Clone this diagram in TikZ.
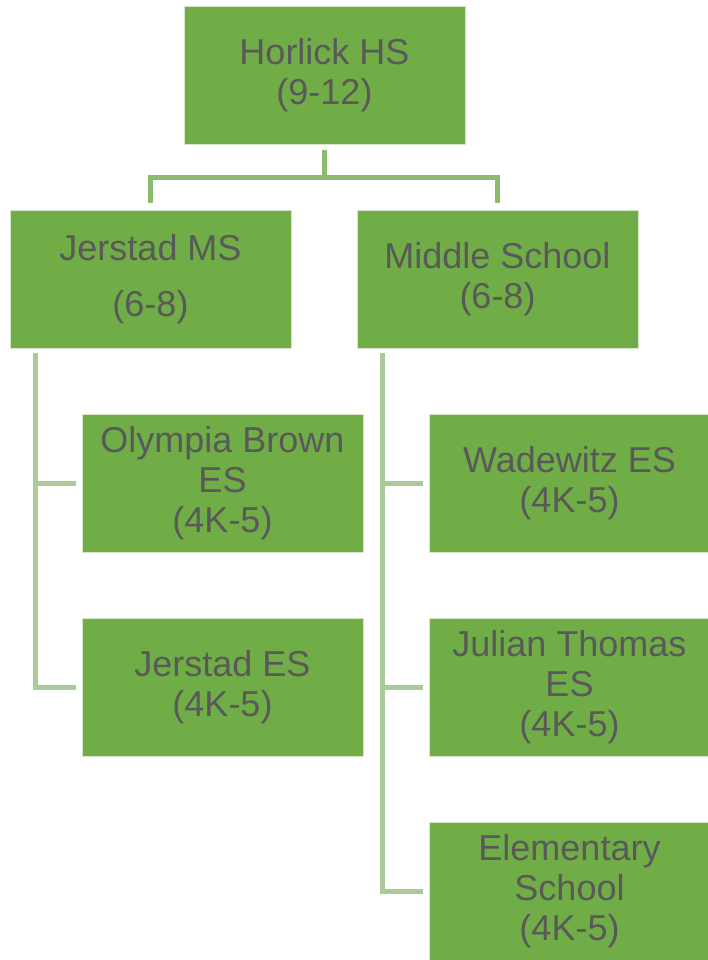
\documentclass[tikz,border=0pt]{standalone}
\usepackage{fontspec}
\setmainfont{Liberation Sans}
\usetikzlibrary{calc}
\definecolor{boxgreen}{HTML}{70AD47}
\definecolor{txtgray}{HTML}{595959}
\definecolor{conntop}{HTML}{8DBB6D}
\definecolor{connlow}{HTML}{AACA98}
\definecolor{edgegreen}{HTML}{D5E8C8}
\tikzset{
  orgbox/.style={fill=boxgreen, draw=edgegreen, line width=0.6pt, minimum width=281pt, minimum height=138pt,
    inner sep=0pt, align=center, text=txtgray, font=\fontsize{36}{40}\selectfont},
  conna/.style={draw=conntop, line width=5pt},
  connb/.style={draw=connlow, line width=5pt},
}
\begin{document}
\begin{tikzpicture}[x=1pt,y=1pt]
\useasboundingbox (0,0) rectangle (708,-960);
\clip (0,0) rectangle (708,-960);
\node[orgbox] (top) at (324.5,-75) {Horlick HS\\(9-12)};
\node[orgbox] (jms) at (150.5,-279) {Jerstad MS\\[16pt](6-8)};
\node[orgbox] (ms) at (497.5,-279) {Middle School\\(6-8)};
\node[orgbox] (ob) at (222.5,-483) {Olympia Brown\\ES\\(4K-5)};
\node[orgbox] (jes) at (222.5,-687) {Jerstad ES\\(4K-5)};
\node[orgbox] (wad) at (569.5,-483) {Wadewitz ES\\(4K-5)};
\node[orgbox] (jt) at (569.5,-687) {Julian Thomas\\ES\\(4K-5)};
\node[orgbox] (el) at (569.5,-891) {Elementary\\School\\(4K-5)};
% top connectors
\draw[conna] ([yshift=-6pt]top.south) -- ++(0,-27) coordinate (hb);
\draw[conna] ([yshift=7pt]jms.north) |- (hb) -| ([yshift=7pt]ms.north);
% left column
\draw[connb] ($(jms.south west)+(26,-5)$) coordinate (lt) |- ([xshift=-6pt]jes.west);
\draw[connb] ([xshift=-6pt]ob.west) -- (lt |- ob.west);
% right column
\draw[connb] ($(ms.south west)+(26,-5)$) coordinate (rt) |- ([xshift=-6pt]el.west);
\draw[connb] ([xshift=-6pt]wad.west) -- (rt |- wad.west);
\draw[connb] ([xshift=-6pt]jt.west) -- (rt |- jt.west);
\end{tikzpicture}
\end{document}
